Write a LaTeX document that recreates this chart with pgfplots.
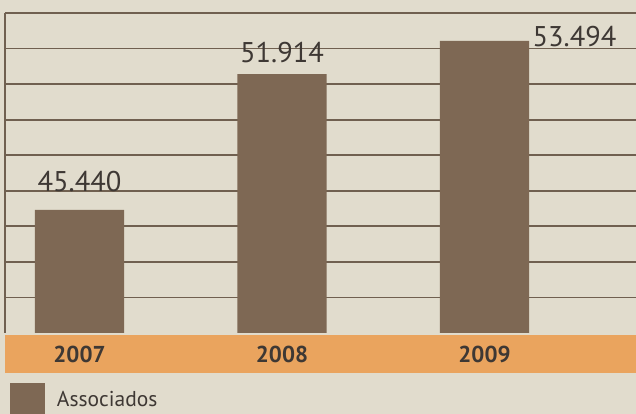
\documentclass[border=0pt]{standalone}
\usepackage{fontspec}
\setmainfont{PT Sans}
\usepackage{pgfplots}
\usepackage{pgfplotstable}
\pgfplotsset{compat=1.18}

\definecolor{paper}{RGB}{225,220,205}
\definecolor{rule}{RGB}{112,96,80}
\definecolor{barbrown}{RGB}{126,104,84}
\definecolor{band}{RGB}{234,164,94}
\definecolor{ink}{RGB}{62,56,52}

% associados por ano; dx/dy = offset of the value label
\pgfplotstableread{
x  year  v      dx  dy
0  2007  45440  0   28
1  2008  51914  0   22
2  2009  53494  90  4
}\assoc

\begin{document}
\begin{tikzpicture}[x=1pt,y=1pt]
\fill[paper] (0,0) rectangle (636,414);
\fill[band] (5,41) rectangle (636,79);
\begin{axis}[
    at={(5pt,81pt)}, anchor=south west,
    scale only axis, width=631pt, height=320pt,
    xmin=-0.368, xmax=2.748,
    ymin=39573, ymax=54829,
    scaled y ticks=false,
    separate axis lines,
    axis y line*=left, axis x line*=bottom,
    x axis line style={draw=none},
    y axis line style={draw=rule, line width=2pt},
    major tick length=0pt,
    ytick={41268,42963,44658,46353,48048,49744,51439,53134,54829},
    yticklabels={},
    ymajorgrids,
    major grid style={draw=rule, line width=1.8pt},
    xtick={0,1,2},
    xticklabels={2007,2008,2009},
    xticklabel style={font=\fontsize{23}{23}\selectfont\bfseries, text=ink,
        anchor=center, yshift=-21pt},
    legend style={at={(0.0079,-0.156)}, anchor=north west, draw=none, fill=none,
        inner sep=0pt, outer sep=0pt, font=\fontsize{21.5}{21.5}\selectfont, text=ink,
        /tikz/every odd column/.style={column sep=10pt}},
    legend image code/.code={\fill[barbrown] (0pt,-14pt) rectangle (35pt,17pt);},
]
\addplot[ybar, bar width=0.44, fill=barbrown, draw=none,
    visualization depends on={\thisrow{dx} \as \dx},
    visualization depends on={\thisrow{dy} \as \dy},
    nodes near coords={\pgfmathprintnumber[fixed,precision=0,1000 sep={.},assume math mode=true]{\pgfplotspointmeta}},
    every node near coord/.append style={anchor=center, xshift=\dx pt, yshift=\dy pt,
        font=\fontsize{28.5}{28.5}\selectfont, text=ink},
] table[x=x, y=v] {\assoc};
\addlegendentry{Associados}
\end{axis}
\pgfresetboundingbox
\useasboundingbox (0,0) rectangle (636,414);
\end{tikzpicture}
\end{document}
